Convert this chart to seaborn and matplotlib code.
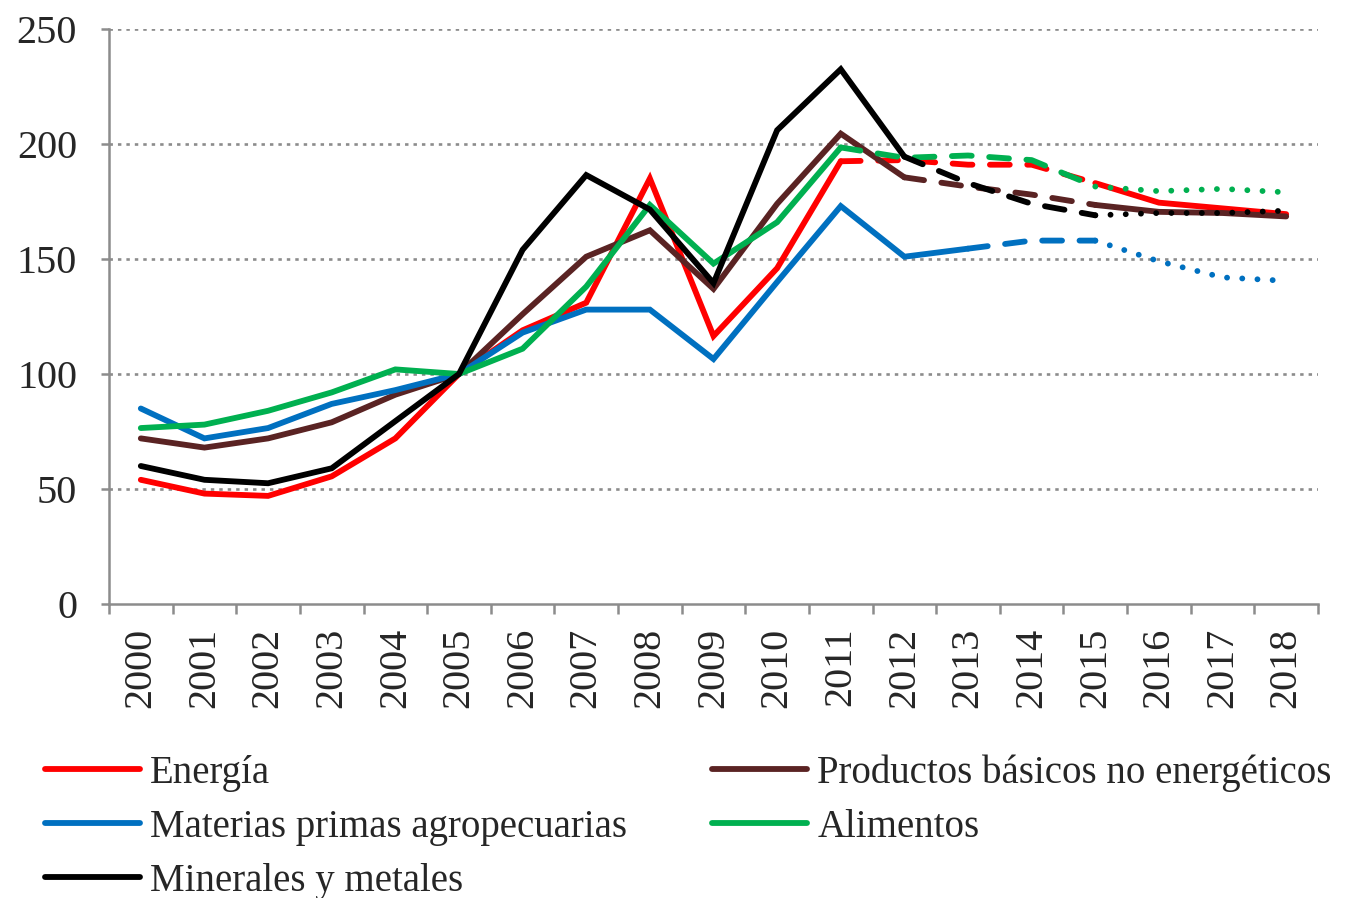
import numpy as np
import pandas as pd
import matplotlib.pyplot as plt
import seaborn as sns
from matplotlib.lines import Line2D

# indices de precios, 2005 = 100
years = list(range(2000, 2019))

energia = [54, 48, 47, 55.5, 72, 100, 119, 131, 185, 116.5, 146, 192.5,
           193, 191, 191, 183, 174.5, 172, 169.5]
productos = [72, 68, 72, 79, 91, 100, 126, 151, 162.5, 137, 174, 204.5,
             185.5, 181.5, 178, 173.5, 170.5, 170, 168.5]
materias = [85, 72, 76.5, 87, 93, 100, 118, 128, 128, 106.5, 140, 173,
            151, 154.5, 158, 158, 149, 142, 140.5]
alimentos = [76.5, 78, 84, 92, 102, 100, 111, 138, 173.5, 148, 166, 198.5,
             194, 195, 193, 181.5, 179.5, 180.5, 179]
minerales = [60, 54, 52.5, 59, 79.5, 100, 154, 186.5, 171.5, 139.5, 206, 232.5,
             194.5, 183, 174, 169, 170, 170, 171]

names = ['Energía', 'Productos básicos no energéticos', 'Materias primas agropecuarias',
         'Alimentos', 'Minerales y metales']

df = pd.DataFrame({'year': years, names[0]: energia, names[1]: productos,
                   names[2]: materias, names[3]: alimentos, names[4]: minerales})

colors = {names[0]: '#ff0000', names[1]: '#5a2323', names[2]: '#0070c0',
          names[3]: '#00b050', names[4]: '#000000'}

solid = '-'
dashed = (0, (3.4, 3.0))
dotted = (0, (0.01, 2.6))

# tramos: (desde, hasta, estilo)
segments = {
    names[0]: [(2000, 2011, solid), (2011, 2015, dashed), (2015, 2018, solid)],
    names[1]: [(2000, 2012, solid), (2012, 2015, dashed), (2015, 2018, solid)],
    names[2]: [(2000, 2013, solid), (2013, 2015, dashed), (2015, 2018, dotted)],
    names[3]: [(2000, 2011, solid), (2011, 2015, dashed), (2015, 2018, dotted)],
    names[4]: [(2000, 2012, solid), (2012, 2015, dashed), (2015, 2018, dotted)],
}

sns.set_style('white')
plt.rcParams['font.family'] = ['Liberation Serif', 'DejaVu Serif']

fig = plt.figure(figsize=(13.47, 8.98), dpi=100)
ax = fig.add_axes([109 / 1347, 1 - 604 / 898, (1318 - 109) / 1347, (604 - 29) / 898])

lw = 4.2
for name in [names[0], names[1], names[2], names[3], names[4]]:
    for a, b, ls in segments[name]:
        part = df[(df['year'] >= a) & (df['year'] <= b)]
        sns.lineplot(data=part, x='year', y=name, ax=ax, color=colors[name],
                     linewidth=lw, linestyle=ls, dash_capstyle='round',
                     solid_capstyle='round', solid_joinstyle='miter', legend=False)

ax.set_xlim(1999.5, 2018.5)
ax.set_ylim(0, 250)
ax.set_yticks([0, 50, 100, 150, 200, 250])
ax.set_xticks(years)
ax.set_xticklabels([str(y) for y in years], rotation=90)
ax.set_xticks(np.arange(1999.5, 2019, 1), minor=True)
ax.set_xlabel('')
ax.set_ylabel('')

for y in [50, 100, 150, 200, 250]:
    ax.axhline(y, color='#8c8c8c', linewidth=1.9, linestyle=(0, (1.3, 1.9)), zorder=0)

for s in ['top', 'right']:
    ax.spines[s].set_visible(False)
for s in ['left', 'bottom']:
    ax.spines[s].set_color('#8c8c8c')
    ax.spines[s].set_linewidth(1.8)

ax.tick_params(axis='y', which='major', direction='out', length=6, width=1.8,
               color='#8c8c8c', labelsize=29, pad=17, left=True)
ax.tick_params(axis='x', which='major', length=0, labelsize=29, pad=17)
ax.tick_params(axis='x', which='minor', direction='out', length=7, width=1.8,
               color='#8c8c8c', bottom=True)

order = [names[0], names[2], names[4], names[1], names[3]]
handles = [Line2D([0], [0], color=colors[n], linewidth=lw, solid_capstyle='round') for n in order]
fig.legend(handles, order, ncol=2, loc='upper left', bbox_to_anchor=(45 / 1347, 1 - 754 / 898),
           frameon=False, fontsize=28, handlelength=2.44, handletextpad=0.26,
           columnspacing=2.19, labelspacing=0.44, borderpad=0, borderaxespad=0)

fig.savefig('out.png', dpi=100)
